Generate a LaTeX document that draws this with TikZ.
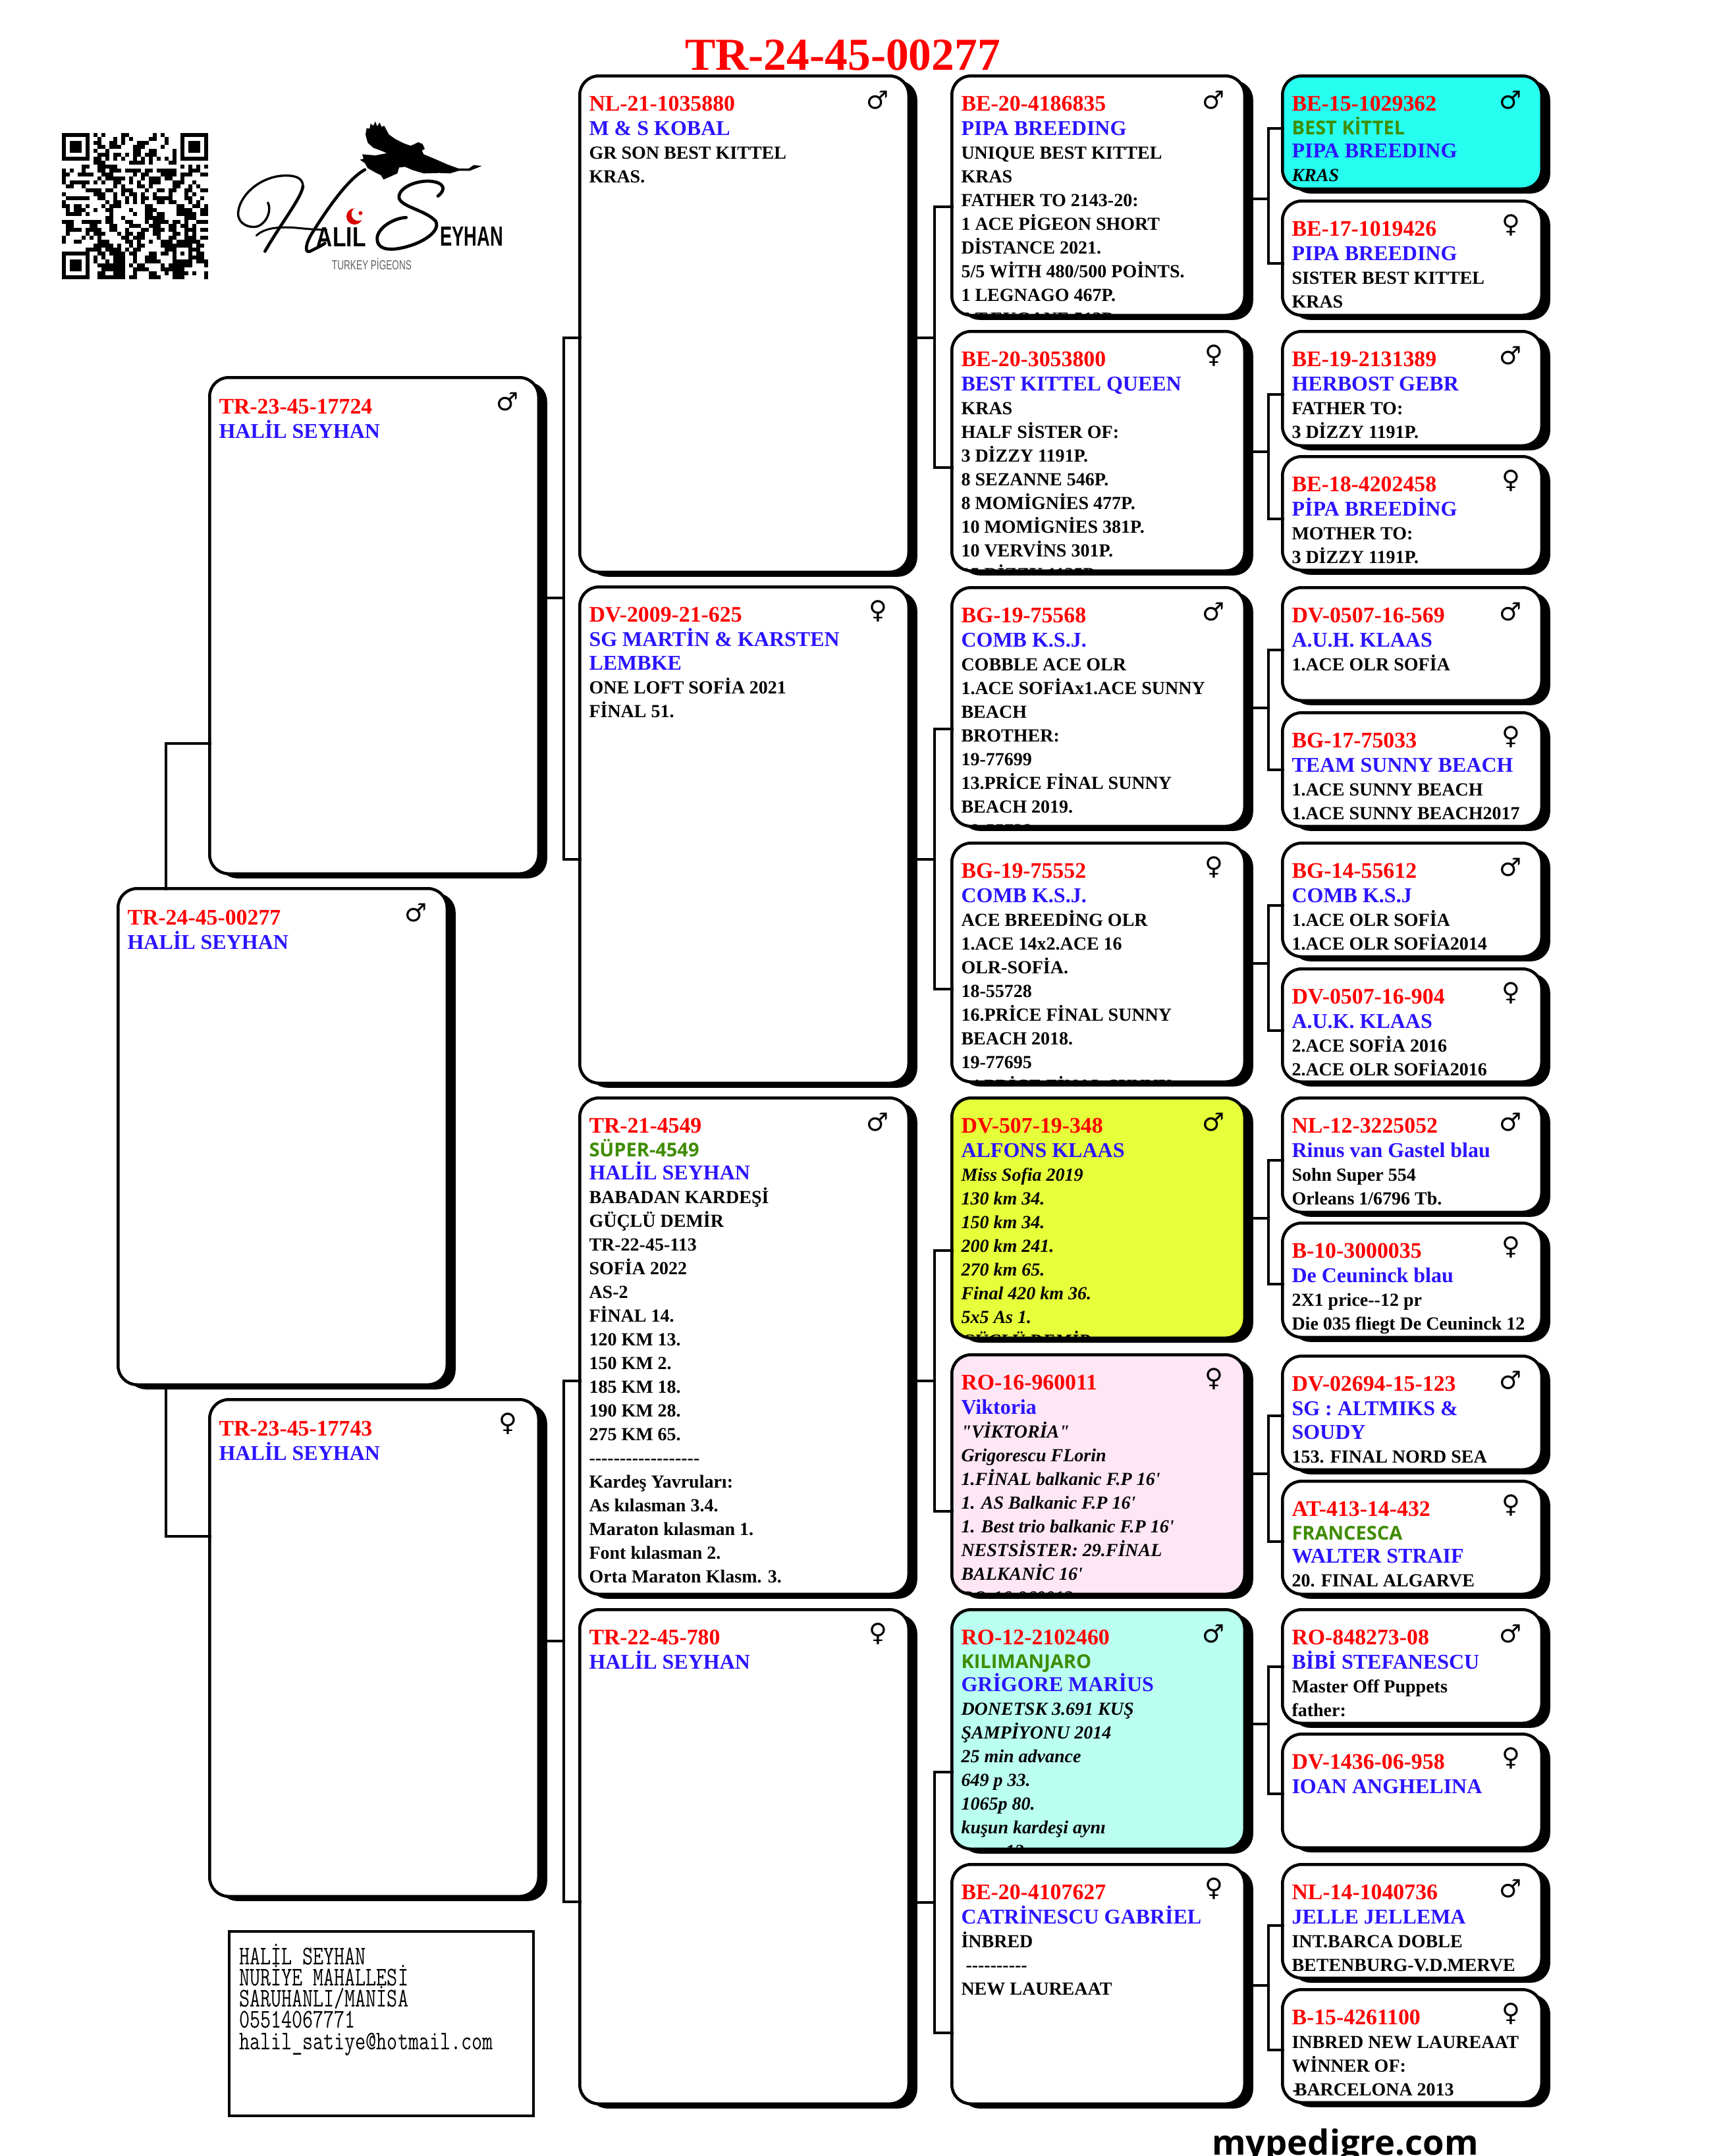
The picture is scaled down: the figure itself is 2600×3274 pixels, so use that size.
\documentclass[tikz,border=0pt]{standalone}
\usepackage{fontspec}
\usetikzlibrary{shadows}
\setmainfont{Liberation Serif}[Ligatures=TeXOff]
\newfontfamily\opensansf{Open Sans}
\newfontfamily\dejavuf{DejaVu Sans}
\newfontfamily\logosans{Liberation Sans}
\definecolor{ptred}{HTML}{FF0000}
\definecolor{ptblue}{HTML}{2B14FF}
\definecolor{ptgreen}{HTML}{3F8C00}
\definecolor{fcyan}{HTML}{26FFF0}
\definecolor{flime}{HTML}{E5FF3A}
\definecolor{fpink}{HTML}{FFE6F5}
\definecolor{faqua}{HTML}{BAFFF0}
\newcommand\lnReg[1]{\vskip55.5pt\hbox{\smash{\fontsize{33.8}{36}\selectfont\bfseries\textcolor{ptred}{#1}}}}
\newcommand\lnRegLow[1]{\vskip57.5pt\hbox{\smash{\fontsize{33.8}{36}\selectfont\bfseries\textcolor{ptred}{#1}}}}
\newcommand\lnName[1]{\vskip36.5pt\hbox{\smash{\fontsize{32}{36}\selectfont\bfseries\textcolor{ptblue}{#1}}}}
\newcommand\lnNameB[1]{\vskip34.5pt\hbox{\smash{\fontsize{32}{36}\selectfont\bfseries\textcolor{ptblue}{#1}}}}
\newcommand\lnGreen[1]{\vskip36pt\hbox{\smash{\opensansf\fontsize{29}{36}\selectfont\bfseries\textcolor{ptgreen}{#1}}}}
\newcommand\lnNote[1]{\vskip36pt\hbox{\smash{\fontsize{28}{36}\selectfont\bfseries #1}}}
\newcommand\lnItal[1]{\vskip36pt\hbox{\smash{\fontsize{28}{36}\selectfont\bfseries\itshape #1}}}
\newcommand\lnAddr[1]{\vskip32.2pt\hbox{\smash{\scalebox{1}[1.31]{\ttfamily\fontsize{31.2}{36}\selectfont\addfontfeature{FakeBold=0.5}#1}}}}
\newcommand\signM{\char"2642 }
\newcommand\signF{\char"2640 }
\tikzset{
  pedbox/.style={draw=black,line width=4.5pt,rounded corners=29pt,inner sep=0pt,outer sep=0pt,
     general shadow={shadow xshift=13pt,shadow yshift=-7pt,fill=black}},
  pedtext/.style={anchor=north west,inner sep=0pt,outer sep=0pt,text=black},
  pedsign/.style={inner sep=0pt,outer sep=0pt,font=\dejavuf\fontsize{38}{40}\selectfont},
  conn/.style={draw=black,line width=4.5pt,line cap=rect},
  addrbox/.style={draw=black,line width=4.5pt,fill=white,inner sep=0pt},
  logotext/.style={anchor=base west,inner sep=0pt,outer sep=0pt},
  penstroke/.style={draw=black,line cap=round,line join=round}
}
% name, L, T, R, B, fill, sign, body
\newcommand\pbox[8]{%
  \node[pedbox,fill=#6,minimum width={#4-#2-4.5},minimum height={#5-#3-4.5}] (#1) at ({(#2+#4)/2},{(#3+#5)/2}) {};
  \begin{scope}
    \clip[rounded corners=29pt] ({#2+2},{#3+2}) rectangle ({#4-2},{#5-2});
    \node[pedtext] (#1-t) at ({#2+16.5},#3) {\vbox{\offinterlineskip #8}};
  \end{scope}
  \node[pedsign] (#1-s) at ({#4-49},{#3+39}) {#7};
}
% parent, upper child, lower child, spine x, upper y, lower y, mid y
\newcommand\linkped[7]{%
  \coordinate (u-#1) at (#4,#5);
  \coordinate (l-#1) at (#4,#6);
  \coordinate (m-#1) at (#4,#7);
  \draw[conn] (#1.east |- m-#1) -- (m-#1);
  \draw[conn] (#2.west |- u-#1) -- (u-#1) -- (l-#1) -- (#3.west |- l-#1);
}
\newcommand\qrow[2]{\foreach \a/\b in {#2}{\fill[black] ({94+6*\a},{202+6*#1}) rectangle ({94+6*\b+.2},{202+6*#1+6.2});}}
\begin{document}
\begin{tikzpicture}[x=1pt,y=-1pt]
\useasboundingbox (0,0) rectangle (2600,3274);
\fill[white] (0,0) rectangle (2600,3274);

% ---------- title and footer
\node[anchor=base west,inner sep=0pt,text=ptred,font=\fontsize{69.5}{72}\selectfont\bfseries] (title) at (1040,106) {TR-24-45-00277};
\node[anchor=base west,inner sep=0pt,font=\opensansf\fontsize{52.5}{56}\selectfont\bfseries] (footer) at (1840,3272) {mypedigre.com};

% ---------- QR code
\foreach \ox/\oy in {94/202,274/202,94/382}{
  \fill[black] (\ox,\oy) rectangle ({\ox+42},{\oy+42});
  \fill[white] ({\ox+6},{\oy+6}) rectangle ({\ox+36},{\oy+36});
  \fill[black] ({\ox+12},{\oy+12}) rectangle ({\ox+30},{\oy+30});
}
\qrow{0}{8/9,10/11,15/17,23/24,25/26}
\qrow{1}{9/10,13/14,15/16,17/18,22/24,26/27}
\qrow{2}{8/10,12/14,15/16,19/22,26/27}
\qrow{3}{9/11,12/15,18/21,25/26}
\qrow{4}{8/9,11/12,18/20,22/24,28/29}
\qrow{5}{9/12,13/15,16/17,18/20,21/24,28/29}
\qrow{6}{8/10,11/12,13/14,15/16,18/19,20/21,22/23,24/25,26/27,28/29}
\qrow{7}{8/11,17/21,22/23,27/29}
\qrow{8}{5/7,9/14,30/31,32/33,34/35,36/37}
\qrow{9}{0/1,2/3,5/6,9/11,12/15,16/20,21/23,24/29,32/35}
\qrow{10}{0/2,4/8,10/13,18/19,20/22,25/29,30/33,35/37}
\qrow{11}{0/1,9/10,11/16,17/18,20/21,22/25,26/28,30/31}
\qrow{12}{0/1,2/7,8/9,10/11,13/15,17/18,19/20,22/25,28/31,33/34}
\qrow{13}{1/3,5/6,13/14,15/16,19/21,22/23,28/30,32/33,34/35}
\qrow{14}{6/10,11/13,15/18,21/22,24/26,27/29,31/33,35/37}
\qrow{15}{0/1,8/11,13/14,15/16,17/19,20/21,23/24,27/28,31/32,33/34}
\qrow{16}{1/7,9/11,13/14,16/17,18/19,20/22,23/28,31/33,35/36}
\qrow{17}{0/1,11/12,13/15,16/17,18/19,20/21,24/26,27/29,32/33,34/35}
\qrow{18}{0/2,3/5,6/7,10/11,12/15,21/23,29/31,33/35,36/37}
\qrow{19}{1/2,3/6,8/9,11/13,17/18,21/24,29/33,35/37}
\qrow{20}{1/5,6/7,12/13,18/19,21/23,24/26,29/34,35/37}
\qrow{21}{11/13,15/16,21/26,31/34}
\qrow{22}{0/3,5/10,11/13,16/18,21/22,23/27,28/30,31/32,34/37}
\qrow{23}{1/3,7/9,12/14,17/20,22/25,27/29,30/32,33/34}
\qrow{24}{1/5,6/10,12/14,16/17,20/22,23/26,27/29,31/34,35/37}
\qrow{25}{1/2,6/7,8/11,14/15,16/18,19/21,23/25,28/30,31/32,33/34}
\qrow{26}{0/1,5/6,7/8,9/10,15/17,18/21,24/25,27/29,31/34,35/37}
\qrow{27}{0/1,3/5,9/12,16/18,19/20,22/23,25/28,29/35}
\qrow{28}{8/13,14/15,17/18,19/21,25/33,34/36}
\qrow{29}{6/10,11/15,16/17,18/20,26/29,32/35}
\qrow{30}{9/11,12/16,17/19,22/24,25/27,28/29,30/31,32/33,34/36}
\qrow{31}{8/9,10/11,13/16,18/19,21/24,28/29,32/36}
\qrow{32}{8/9,11/12,13/16,18/19,21/25,28/33,34/37}
\qrow{33}{9/16,17/18,19/21,25/26,27/33,36/37}
\qrow{34}{10/16,18/22,25/31}
\qrow{35}{9/11,13/16,18/19,22/24,26/27,28/32,33/34,36/37}
\qrow{36}{9/16,17/19,22/25,28/31,36/37}

% ---------- logo (coordinates are in 3x units of the crop at 350,176)
\begin{scope}[shift={(350,176)},x=.3333pt,y=-.3333pt]
  \fill[black] (1145,228) -- (1108,224) -- (1085,240) -- (1040,240) -- (990,222) -- (940,200) -- (880,175) -- (872,158) -- (885,150)
     -- (875,128) -- (855,120) -- (835,130) -- (820,136) -- (790,125) -- (750,105) -- (722,85) -- (700,45) -- (688,50) -- (680,30) -- (668,48) -- (660,25)
     -- (650,45) -- (638,35) -- (634,58) -- (620,56) -- (615,85) -- (625,122) -- (650,145) -- (690,160) -- (712,170) -- (660,180) -- (600,175)
     -- (606,195) -- (590,200) -- (612,215) -- (625,238) -- (660,258) -- (685,270) -- (697,290) -- (720,280) -- (760,262) -- (768,235) -- (795,232) -- (830,247)
     -- (880,262) -- (950,260) -- (1000,262) -- (1040,250) -- (1090,250) -- cycle;
  \draw[penstroke,line width=3.4pt] (170,395) .. controls (185,420) and (175,480) .. (125,503) .. controls (85,515) and (30,490) .. (35,440)
     .. controls (40,370) and (120,285) .. (230,273) .. controls (290,268) and (330,280) .. (330,320);
  \draw[penstroke,line width=4.6pt] (330,320) .. controls (325,370) and (230,490) .. (157,617);
  \draw[penstroke,line width=3pt] (118,545) .. controls (160,505) and (240,505) .. (300,510) .. controls (350,515) and (400,520) .. (437,518);
  \draw[penstroke,line width=4.6pt] (612,245) .. controls (530,290) and (430,440) .. (365,545) .. controls (335,600) and (345,625) .. (360,618) .. controls (385,605) and (410,595) .. (430,580);
  \draw[penstroke,line width=4.8pt] (945,365) .. controls (985,335) and (975,300) .. (900,297) .. controls (820,298) and (760,340) .. (768,375)
     .. controls (780,415) and (890,430) .. (935,480) .. controls (960,530) and (860,590) .. (760,605) .. controls (690,615) and (660,590) .. (670,545)
     .. controls (685,500) and (750,465) .. (800,463);
  \fill[ptred!85!black] (565,458) circle (37);
  \fill[white] (582,447) circle (31);
  \fill[ptred!85!black] (592,443) circle (9);
  \node[logotext] (logoalil) at (393,595) {\logosans\fontsize{42}{44}\selectfont\bfseries\scalebox{.8}[1]{ALIL}};
  \node[logotext] (logoeyhan) at (955,592) {\logosans\fontsize{42}{44}\selectfont\bfseries\scalebox{.65}[1]{EYHAN}};
  \node[logotext,text=black!62] (logotp) at (462,702) {\logosans\fontsize{20}{22}\selectfont\scalebox{.68}[1]{TURKEY PİGEONS}};
\end{scope}

% ---------- address
\node[addrbox,minimum width=462pt,minimum height=280pt] (addr) at (579,3073) {};
\node[pedtext] (addrtext) at (363,2951) {\vbox{\offinterlineskip
  \lnAddr{HALİL SEYHAN}\lnAddr{NURİYE MAHALLESİ}\lnAddr{SARUHANLI/MANİSA}\lnAddr{05514067771}\lnAddr{halil\_satiye@hotmail.com}}};

% ---------- generation 0 and 1
\pbox{c0}{177}{1347}{681}{2105}{white}{\signM}{\lnRegLow{TR-24-45-00277}\lnName{HALİL SEYHAN}}
\pbox{c1a}{316}{571}{820}{1329}{white}{\signM}{\lnRegLow{TR-23-45-17724}\lnName{HALİL SEYHAN}}
\pbox{c1b}{316}{2123}{820}{2882}{white}{\signF}{\lnRegLow{TR-23-45-17743}\lnName{HALİL SEYHAN}}

% ---------- generation 2
\pbox{c2a}{878}{113}{1382}{871}{white}{\signM}{\lnReg{NL-21-1035880}\lnName{M \& S KOBAL}\lnNote{GR SON BEST KITTEL}\lnNote{KRAS.}}
\pbox{c2b}{878}{889}{1382}{1647}{white}{\signF}{\lnReg{DV-2009-21-625}\lnName{SG MARTİN \& KARSTEN}\lnName{LEMBKE}\lnNote{ONE LOFT SOFİA 2021}\lnNote{FİNAL 51.}}
\pbox{c2c}{878}{1665}{1382}{2423}{white}{\signM}{\lnReg{TR-21-4549}\lnGreen{SÜPER-4549}\lnNameB{HALİL SEYHAN}\lnNote{BABADAN KARDEŞİ}\lnNote{GÜÇLÜ DEMİR}\lnNote{TR-22-45-113}\lnNote{SOFİA 2022}\lnNote{AS-2}\lnNote{FİNAL 14.}\lnNote{120 KM 13.}\lnNote{150 KM 2.}\lnNote{185 KM 18.}\lnNote{190 KM 28.}\lnNote{275 KM 65.}\lnNote{------------------}\lnNote{Kardeş Yavruları:}\lnNote{As kılasman 3.4.}\lnNote{Maraton kılasman 1.}\lnNote{Font kılasman 2.}\lnNote{Orta Maraton Klasm. 3.}}
\pbox{c2d}{878}{2442}{1382}{3197}{white}{\signF}{\lnReg{TR-22-45-780}\lnName{HALİL SEYHAN}}

% ---------- generation 3
\pbox{c3a}{1443}{113}{1892}{481}{white}{\signM}{\lnReg{BE-20-4186835}\lnName{PIPA BREEDING}\lnNote{UNIQUE BEST KITTEL}\lnNote{KRAS}\lnNote{FATHER TO 2143-20:}\lnNote{1 ACE PİGEON SHORT}\lnNote{DİSTANCE 2021.}\lnNote{5/5 WİTH 480/500 POİNTS.}\lnNote{1 LEGNAGO 467P.}\lnNote{6 T.EUGANE 513P.}}
\pbox{c3b}{1443}{501}{1892}{869}{white}{\signF}{\lnReg{BE-20-3053800}\lnName{BEST KITTEL QUEEN}\lnNote{KRAS}\lnNote{HALF SİSTER OF:}\lnNote{3 DİZZY 1191P.}\lnNote{8 SEZANNE 546P.}\lnNote{8 MOMİGNİES 477P.}\lnNote{10 MOMİGNİES 381P.}\lnNote{10 VERVİNS 301P.}\lnNote{15 DİZZY 1135P.}}
\pbox{c3c}{1443}{890}{1892}{1257}{white}{\signM}{\lnReg{BG-19-75568}\lnName{COMB K.S.J.}\lnNote{COBBLE ACE OLR}\lnNote{1.ACE SOFİAx1.ACE SUNNY}\lnNote{BEACH}\lnNote{BROTHER:}\lnNote{19-77699}\lnNote{13.PRİCE FİNAL SUNNY}\lnNote{BEACH 2019.}\lnNote{19-55728}}
\pbox{c3d}{1443}{1278}{1892}{1645}{white}{\signF}{\lnReg{BG-19-75552}\lnName{COMB K.S.J.}\lnNote{ACE BREEDİNG OLR}\lnNote{1.ACE 14x2.ACE 16}\lnNote{OLR-SOFİA.}\lnNote{18-55728}\lnNote{16.PRİCE FİNAL SUNNY}\lnNote{BEACH 2018.}\lnNote{19-77695}\lnNote{24.PRİCE FİNAL SUNNY}}
\pbox{c3e}{1443}{1665}{1892}{2034}{flime}{\signM}{\lnReg{DV-507-19-348}\lnName{ALFONS KLAAS}\lnItal{Miss Sofia 2019}\lnItal{130 km 34.}\lnItal{150 km 34.}\lnItal{200 km 241.}\lnItal{270 km 65.}\lnItal{Final 420 km 36.}\lnItal{5x5 As 1.}\lnItal{GÜÇLÜ DEMİR}}
\pbox{c3f}{1443}{2055}{1892}{2423}{fpink}{\signF}{\lnReg{RO-16-960011}\lnName{Viktoria}\lnItal{"VİKTORİA"}\lnItal{Grigorescu FLorin}\lnItal{1.FİNAL balkanic F.P 16'}\lnItal{1. AS Balkanic F.P 16'}\lnItal{1. Best trio balkanic F.P 16'}\lnItal{NESTSİSTER: 29.FİNAL}\lnItal{BALKANİC 16'}\lnItal{RO-16-960012}}
\pbox{c3g}{1443}{2442}{1892}{2810}{faqua}{\signM}{\lnReg{RO-12-2102460}\lnGreen{KILIMANJARO}\lnNameB{GRİGORE MARİUS}\lnItal{DONETSK 3.691 KUŞ}\lnItal{ŞAMPİYONU 2014}\lnItal{25 min advance}\lnItal{649 p 33.}\lnItal{1065p 80.}\lnItal{kuşun kardeşi aynı}\lnItal{\hspace*{67pt}12}}
\pbox{c3h}{1443}{2829}{1892}{3197}{white}{\signF}{\lnReg{BE-20-4107627}\lnName{CATRİNESCU GABRİEL}\lnNote{İNBRED}\lnNote{\hspace*{7pt}----------}\lnNote{NEW LAUREAAT}}

% ---------- generation 4
\pbox{c4a}{1945}{113}{2343}{289}{fcyan}{\signM}{\lnReg{BE-15-1029362}\lnGreen{BEST KİTTEL}\lnNameB{PIPA BREEDING}\lnItal{KRAS}}
\pbox{c4b}{1945}{303}{2343}{481}{white}{\signF}{\lnReg{BE-17-1019426}\lnName{PIPA BREEDING}\lnNote{SISTER BEST KITTEL}\lnNote{KRAS}}
\pbox{c4c}{1945}{501}{2343}{679}{white}{\signM}{\lnReg{BE-19-2131389}\lnName{HERBOST GEBR}\lnNote{FATHER TO:}\lnNote{3 DİZZY 1191P.}}
\pbox{c4d}{1945}{691}{2343}{868}{white}{\signF}{\lnReg{BE-18-4202458}\lnName{PİPA BREEDİNG}\lnNote{MOTHER TO:}\lnNote{3 DİZZY 1191P.}}
\pbox{c4e}{1945}{890}{2343}{1066}{white}{\signM}{\lnReg{DV-0507-16-569}\lnName{A.U.H. KLAAS}\lnNote{1.ACE OLR SOFİA}}
\pbox{c4f}{1945}{1080}{2343}{1257}{white}{\signF}{\lnReg{BG-17-75033}\lnName{TEAM SUNNY BEACH}\lnNote{1.ACE SUNNY BEACH}\lnNote{1.ACE SUNNY BEACH2017}}
\pbox{c4g}{1945}{1278}{2343}{1455}{white}{\signM}{\lnReg{BG-14-55612}\lnName{COMB K.S.J}\lnNote{1.ACE OLR SOFİA}\lnNote{1.ACE OLR SOFİA2014}}
\pbox{c4h}{1945}{1469}{2343}{1645}{white}{\signF}{\lnReg{DV-0507-16-904}\lnName{A.U.K. KLAAS}\lnNote{2.ACE SOFİA 2016}\lnNote{2.ACE OLR SOFİA2016}}
\pbox{c4i}{1945}{1665}{2343}{1843}{white}{\signM}{\lnReg{NL-12-3225052}\lnName{Rinus van Gastel blau}\lnNote{Sohn Super 554}\lnNote{Orleans 1/6796 Tb.}}
\pbox{c4j}{1945}{1855}{2343}{2033}{white}{\signF}{\lnReg{B-10-3000035}\lnName{De Ceuninck blau}\lnNote{2X1 price--12 pr}\lnNote{Die 035 fliegt De Ceuninck 12}}
\pbox{c4k}{1945}{2057}{2343}{2234}{white}{\signM}{\lnReg{DV-02694-15-123}\lnName{SG : ALTMIKS \&}\lnName{SOUDY}\lnNote{153. FINAL NORD SEA}}
\pbox{c4l}{1945}{2247}{2343}{2423}{white}{\signF}{\lnReg{AT-413-14-432}\lnGreen{FRANCESCA}\lnNameB{WALTER STRAIF}\lnNote{20. FINAL ALGARVE}}
\pbox{c4m}{1945}{2442}{2343}{2619}{white}{\signM}{\lnReg{RO-848273-08}\lnName{BİBİ STEFANESCU}\lnNote{Master Off Puppets}\lnNote{father:}}
\pbox{c4n}{1945}{2631}{2343}{2808}{white}{\signF}{\lnReg{DV-1436-06-958}\lnName{IOAN ANGHELINA}}
\pbox{c4o}{1945}{2829}{2343}{3006}{white}{\signM}{\lnReg{NL-14-1040736}\lnName{JELLE JELLEMA}\lnNote{INT.BARCA DOBLE}\lnNote{BETENBURG-V.D.MERVE}}
\pbox{c4p}{1945}{3019}{2343}{3195}{white}{\signF}{\lnReg{B-15-4261100}\lnNote{INBRED NEW LAUREAAT}\lnNote{WİNNER OF:}\lnNote{\hspace*{1pt}-\kern-6pt BARCELONA 2013}}

% ---------- connectors
\coordinate (rootu) at (252,1129);
\coordinate (rootl) at (252,2333);
\draw[conn] (c1a.west |- rootu) -- (rootu) -- (rootu |- c0.north);
\draw[conn] (rootl |- c0.south) -- (rootl) -- (c1b.west |- rootl);
\linkped{c1a}{c2a}{c2b}{856}{513}{1305}{908}
\linkped{c1b}{c2c}{c2d}{856}{2097}{2888}{2492}
\linkped{c2a}{c3a}{c3b}{1419}{314}{710}{513}
\linkped{c2b}{c3c}{c3d}{1419}{1107}{1502}{1305}
\linkped{c2c}{c3e}{c3f}{1419}{1899}{2295}{2097}
\linkped{c2d}{c3g}{c3h}{1419}{2691}{3087}{2889}
\linkped{c3a}{c4a}{c4b}{1926}{195}{400}{302}
\linkped{c3b}{c4c}{c4d}{1926}{599}{788}{686}
\linkped{c3c}{c4e}{c4f}{1926}{987}{1169}{1075}
\linkped{c3d}{c4g}{c4h}{1926}{1375}{1565}{1463}
\linkped{c3e}{c4i}{c4j}{1926}{1762}{1950}{1850}
\linkped{c3f}{c4k}{c4l}{1926}{2150}{2341}{2238}
\linkped{c3g}{c4m}{c4n}{1926}{2531}{2724}{2618}
\linkped{c3h}{c4o}{c4p}{1926}{2924}{3113}{3015}
\end{tikzpicture}
\end{document}
